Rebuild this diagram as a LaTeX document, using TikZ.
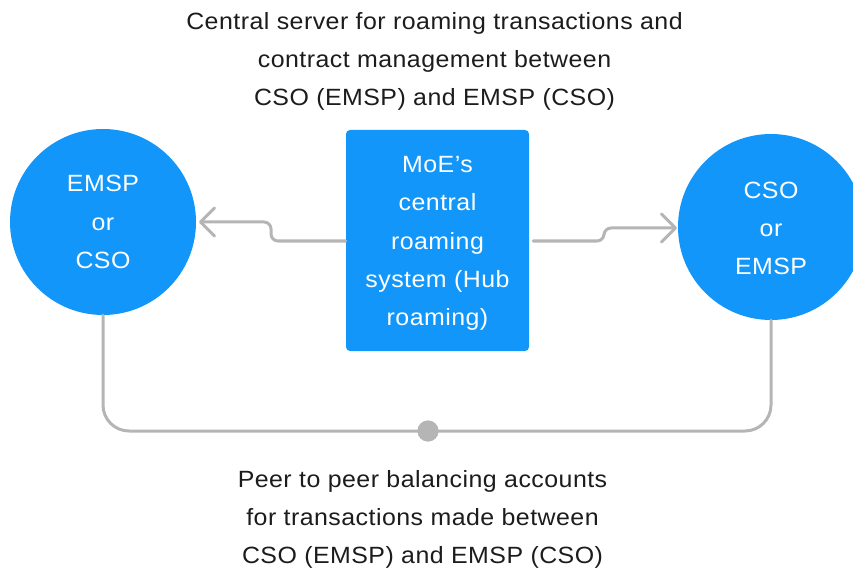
\documentclass[tikz,border=0pt]{standalone}
\usepackage{fontspec}
\setmainfont{Liberation Sans}[FakeStretch=1.06, LetterSpace=2]
\usetikzlibrary{arrows.meta}
\definecolor{hubblue}{HTML}{1296FA}
\definecolor{linkgray}{HTML}{B5B5B5}
\definecolor{inkdark}{HTML}{1C1C1C}
\tikzset{
  labeltext/.style={align=center, font=\fontsize{23.5}{38.3}\selectfont},
  party/.style={circle, fill=hubblue, draw=none, minimum size=186pt, inner sep=0pt,
    text=white, labeltext},
  hubbox/.style={rectangle, rounded corners=4pt, fill=hubblue, draw=none,
    minimum width=183pt, minimum height=221pt, inner sep=0pt},
  hubtext/.style={text=white, labeltext},
  caption/.style={text=inkdark, labeltext},
  link/.style={draw=linkgray, line width=3pt, line cap=round, line join=round},
  flow/.style={link, rounded corners=7pt,
    -{Straight Barb[length=14pt, width=28pt, round]}},
  junction/.style={circle, fill=linkgray, draw=none, minimum size=21pt, inner sep=0pt}
}
\begin{document}
\begin{tikzpicture}[x=1pt, y=-1pt]
  \useasboundingbox (0,0) rectangle (853,569);
  \clip (0,0) rectangle (853,569);

  % parties and hub
  \node[party] (left) at (103,222) {EMSP\\or\\CSO};
  \node[party] (right) at (771,227) {};
  \node[hubtext] (rightlabel) at (771,228.5) {CSO\\or\\EMSP};
  \node[hubbox] (hub) at (437.5,240.5) {};
  \node[hubtext] (hublabel) at (437.5,243.5) {MoE’s\\central\\roaming\\system (Hub\\roaming)};

  % captions
  \node[caption] (toptext) at (434.5,61.5) {Central server for roaming transactions and\\contract management between\\CSO (EMSP) and EMSP (CSO)};
  \node[caption] (bottomtext) at (422.5,519.5) {Peer to peer balancing accounts\\for transactions made between\\CSO (EMSP) and EMSP (CSO)};

  % hub links
  \coordinate (ltip) at (199,222);
  \coordinate (rtip) at (677,228);
  \draw[flow] (hub.west |- 0,241) -- (271,241) -- (271,222) -- (ltip);
  \draw[flow] ([xshift=4pt]hub.east |- 0,241) -- (604,241) -- (604,228) -- (rtip);

  % peer-to-peer link
  \node[junction] (dot) at (428,431) {};
  \draw[link, rounded corners=26pt] (left.south) -- (left.south |- dot) -- (right.south |- dot) -- (right.south);
  \node[junction] at (dot) {};
\end{tikzpicture}
\end{document}
